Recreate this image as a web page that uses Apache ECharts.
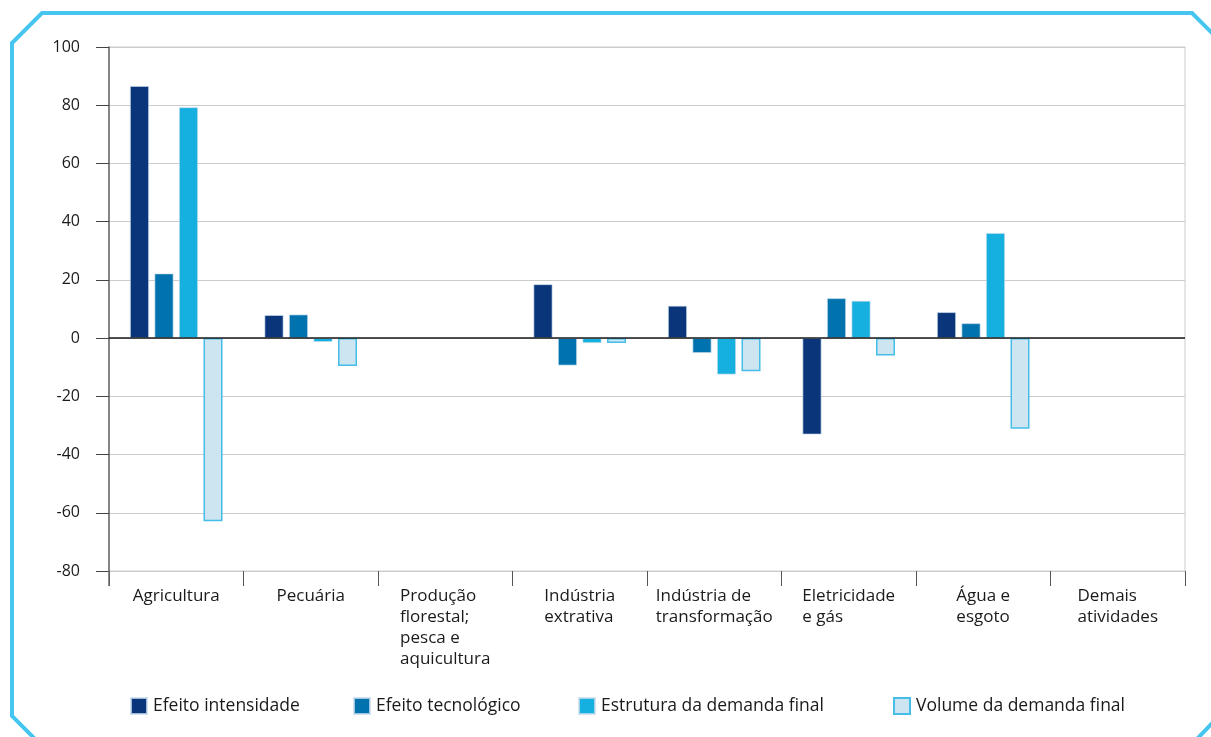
<!DOCTYPE html>
<html><head><meta charset="utf-8">
<script src="https://cdn.jsdelivr.net/npm/echarts@6/dist/echarts.min.js"></script>
<style>html,body{margin:0;padding:0;background:#fff}#c{width:1211px;height:737px}</style>
</head><body><div id="c"></div>
<script>
const categories = ["Agricultura","Pecuária","Produção\nflorestal;\npesca e\naquicultura","Indústria\nextrativa","Indústria de\ntransformação","Eletricidade\ne gás","Água e\nesgoto","Demais\natividades"];
const seriesNames = ["Efeito intensidade","Efeito tecnológico","Estrutura da demanda final","Volume da demanda final"];
const efeitoIntensidade = [86.6, 7.9, null, 18.5, 11.1, -33.1, 8.9, null];
const efeitoTecnologico = [22.2, 8.1, null, -9.4, -5.1, 13.7, 5.1, null];
const estruturaDemanda  = [79.3, -1.3, null, -1.7, -12.5, 12.8, 36.1, null];
const volumeDemanda     = [-62.9, -9.6, null, -1.7, -11.4, -6.0, -31.1, null];
const yTicks = {min: -80, max: 100, interval: 20};

const colors = ["#0a357b","#0073ae","#16b0e0","#cde5f0"];
const font = "Open Sans";
const chart = echarts.init(document.getElementById('c'));
function mk(i, data){
  return {name: seriesNames[i], type:'bar', data: data, barWidth: 19, barGap: '29%',
    itemStyle: {color: colors[i], borderColor: i===3 ? '#45bde8' : 'rgba(200,220,235,0.8)', borderWidth: i===3 ? 1.5 : 0.8},
    silent: true};
}
const series = [mk(0,efeitoIntensidade), mk(1,efeitoTecnologico), mk(2,estruturaDemanda), mk(3,volumeDemanda)];
series[0].markLine = {silent:true, symbol:'none', label:{show:false}, lineStyle:{color:'#1a1a1a', width:1.5, type:'solid'}, data:[{yAxis:0}]};
const legendLefts = [130, 353, 578, 893];
const legends = seriesNames.map((n,i)=>({data:[n], left: legendLefts[i], top: 697, padding:0, itemWidth: 16, itemHeight: 16, itemGap: 0,
  icon:'rect', textStyle:{fontFamily:font, fontSize:17.5, color:'#1a1a1a', padding:[0,0,0,1]}, selectedMode:false}));
chart.setOption({
  animation:false,
  legend: legends,
  grid: {left:109, right:26, top:47, bottom:166, show:true, borderColor:'#cccccc', borderWidth:1},
  xAxis: {type:'category', data: categories, position:'bottom',
    axisLine:{show:true, onZero:false, lineStyle:{color:'#cccccc'}},
    axisTick:{show:true, length:15, lineStyle:{color:'#555'}},
    axisLabel:{interval:0, margin:15, fontFamily:font, fontSize:17, color:'#1a1a1a', lineHeight:21,
      formatter: v => v.split('\n').map(l=>'{a|'+l+'}').join('\n'),
      rich:{a:{align:'left', fontFamily:font, fontSize:17, color:'#1a1a1a', lineHeight:21}}}},
  yAxis: {type:'value', min:yTicks.min, max:yTicks.max, interval:yTicks.interval,
    axisLine:{show:true, lineStyle:{color:'#666', width:1.5}},
    axisTick:{show:true, length:13, lineStyle:{color:'#444'}},
    axisLabel:{margin:29, fontFamily:font, fontSize:16, color:'#1a1a1a'},
    splitLine:{show:true, lineStyle:{color:'#cccccc', width:1}}},
  graphic:[
    {type:'polyline', silent:true, z:100, shape:{points:[[36,740],[12,716],[12,43],[42,13],[1192,13],[1222,43],[1222,713],[1196,740]]},
     style:{stroke:'#45c5f0', lineWidth:4, fill:null}},
    {type:'line', silent:true, z:5, shape:{x1:109,y1:571,x2:109,y2:586}, style:{stroke:'#666', lineWidth:1.5}}
  ],
  series: series
});
</script></body></html>
